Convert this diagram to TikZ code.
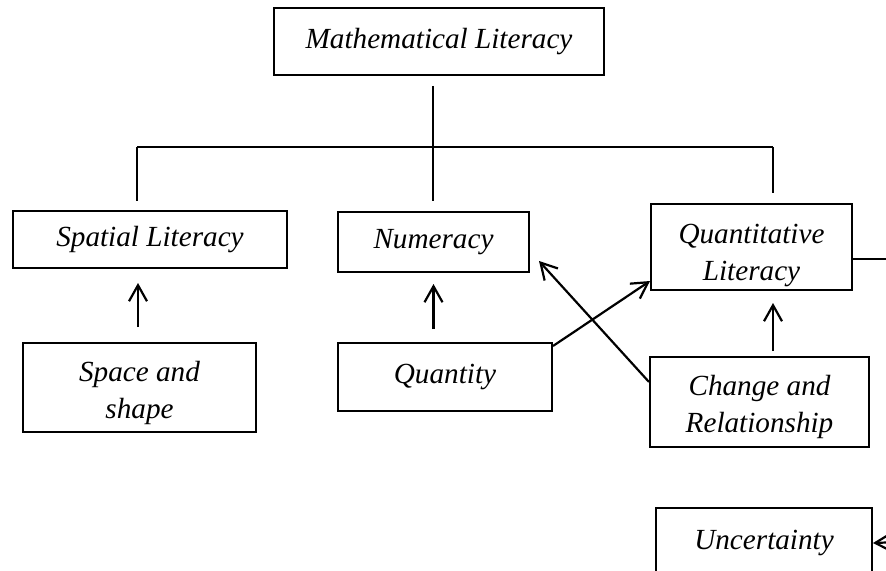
\documentclass[tikz,border=0pt]{standalone}
\usepackage{fontspec}
\setmainfont{Liberation Serif}
\usetikzlibrary{positioning,arrows.meta,calc}
\newcommand\lowstrut[1]{\rule{0pt}{#1}}

\begin{document}
\begin{tikzpicture}[
  x=0.5pt,y=-0.5pt,
  every node/.style={font=\fontsize{14.6}{18.5}\selectfont\itshape,align=center},
  box/.style={draw,line width=1pt,inner sep=0pt},
  link/.style={line width=1.1pt},
  arr/.style={line width=1.1pt,-{Straight Barb[length=8pt,width=9pt,line width=1.1pt]}}
]
  % 枠
  \useasboundingbox (0,0) rectangle (886,571);

  % 箱
  \node[box,minimum width=165pt,minimum height=33.5pt] (math) at (439,41.5) {Mathematical Literacy};
  \node[box,minimum width=137pt,minimum height=28.5pt] (spatial) at (150,239.5) {Spatial Literacy};
  \node[box,minimum width=95.5pt,minimum height=30pt] (numer) at (433.5,242) {Numeracy};
  \node[box,minimum width=100.5pt,minimum height=43pt] (quantlit) at (751.5,247)
    {\lowstrut{18pt}Quantitative\\Literacy};
  \node[box,minimum width=116.5pt,minimum height=44.5pt] (space) at (139.5,387.5)
    {\lowstrut{16pt}Space and\\shape};
  \node[box,minimum width=107pt,minimum height=34pt] (quantity) at (445,377) {Quantity};
  \node[box,minimum width=109.5pt,minimum height=45pt] (change) at (759.5,402)
    {\lowstrut{15pt}Change and\\Relationship};
  \node[box,minimum width=108pt,minimum height=35pt] (uncert) at (764,543) {Uncertainty};

  % 分岐線
  \coordinate (bus-l) at (137,147);
  \coordinate (bus-m) at (433,147);
  \coordinate (bus-r) at (773,147);
  \coordinate (edge-r) at (886,259);
  \coordinate (edge-u) at (900,542);

  \draw[link] ([yshift=-5pt]math.south -| bus-m) -- (bus-m);
  \draw[link] (bus-l) -- (bus-r);
  \draw[link] (bus-l) -- ([yshift=4.5pt]spatial.north -| bus-l);
  \draw[link] (bus-m) -- ([yshift=5pt]numer.north -| bus-m);
  \draw[link] (bus-r) -- ([yshift=5pt]quantlit.north -| bus-r);
  \draw[link] ([yshift=-6pt]quantlit.east) -- (edge-r);

  % 矢印
  \draw[arr,shorten <=7.5pt,shorten >=7pt]
    ([xshift=-0.75pt]space.north) -- ([xshift=-0.75pt]space.north |- spatial.south);
  \draw[arr,shorten <=6.5pt,shorten >=5.5pt]
    (numer.south |- quantity.north) -- (numer.south);
  \draw[arr,shorten <=2.5pt,shorten >=6pt]
    ([xshift=6.75pt]change.north) -- ([xshift=6.75pt]change.north |- quantlit.south);
  \draw[arr] ([yshift=-2pt]quantity.north east) -- ([yshift=5pt]quantlit.south west);
  \draw[arr] ([yshift=10pt]change.west) -- ([xshift=4.5pt,yshift=6pt]numer.south east);
  \draw[arr] (edge-u) -- (uncert.east);
\end{tikzpicture}
\end{document}
